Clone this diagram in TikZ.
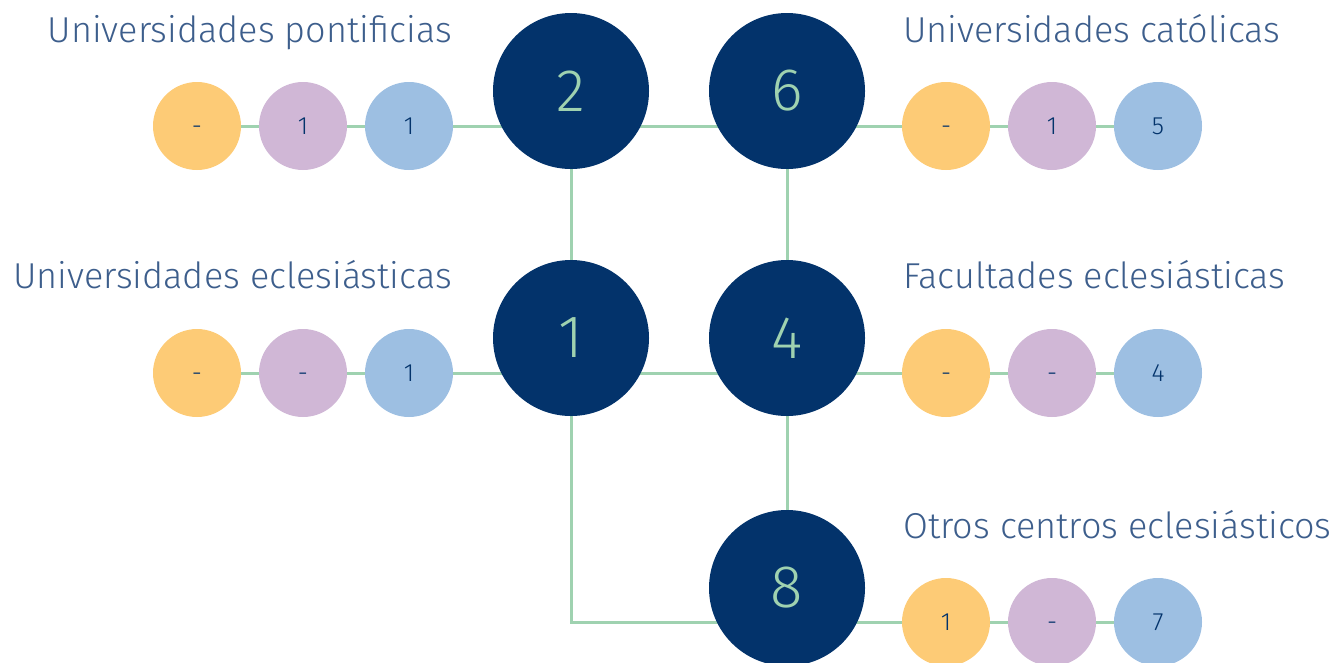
\documentclass[tikz,border=0pt]{standalone}
\usepackage{fontspec}
\setmainfont{Fira Sans}[UprightFont=* Light]
\usetikzlibrary{backgrounds}
\definecolor{navy}{HTML}{03336B}
\definecolor{mint}{HTML}{9FD2B0}
\definecolor{slate}{HTML}{3D5E8C}
\definecolor{ambar}{HTML}{FDCB76}
\definecolor{lila}{HTML}{D0B7D6}
\definecolor{celeste}{HTML}{9DBFE2}

\begin{document}
\begin{tikzpicture}[x=1pt,y=-1pt,
big/.style={circle, fill=navy, text=mint, minimum size=156pt, inner sep=0pt, font=\fontsize{60}{60}\selectfont},
small/.style={circle, minimum size=88pt, inner sep=0pt, text=navy, text height=17pt, text depth=0pt, font=\fontsize{25}{25}\selectfont},
col1/.style={fill=ambar}, col2/.style={fill=lila}, col3/.style={fill=celeste},
title/.style={text=slate, inner sep=0pt, font=\fontsize{36}{36}\selectfont},
link/.style={draw=mint, line width=3pt}]
\useasboundingbox (0,0) rectangle (1340,662);

\node[big] (dos) at (571,91) {2};
\node[big] (seis) at (787,91) {6};
\node[big] (uno) at (571,338) {1};
\node[big] (cuatro) at (787,338) {4};
\node[big] (ocho) at (787,588) {8};

\node[title, anchor=base east] (t-pont) at (452,42) {Universidades pontificias};
\node[title, anchor=base west] (t-cat) at (903,42) {Universidades católicas};
\node[title, anchor=base east] (t-ecl) at (452,288) {Universidades eclesiásticas};
\node[title, anchor=base west] (t-fac) at (903,288) {Facultades eclesiásticas};
\node[title, anchor=base west] (t-otr) at (903,538) {Otros centros eclesiásticos};

\foreach \v [count=\i] in {-,1,1}
  \node[small, col\i] (pont-\i) at ({91+106*\i},126) {\v};
\foreach \v [count=\i] in {-,1,5}
  \node[small, col\i] (cat-\i) at ({840+106*\i},126) {\v};
\foreach \v [count=\i] in {-,-,1}
  \node[small, col\i] (ecl-\i) at ({91+106*\i},373) {\v};
\foreach \v [count=\i] in {-,-,4}
  \node[small, col\i] (fac-\i) at ({840+106*\i},373) {\v};
\foreach \v [count=\i] in {1,-,7}
  \node[small, col\i] (otr-\i) at ({840+106*\i},622) {\v};

\begin{scope}[on background layer]
\draw[link] (pont-1.center) -- (cat-3.center);
\draw[link] (ecl-1.center) -- (fac-3.center);
\draw[link] (dos) -- (uno);
\draw[link] (seis) -- (cuatro);
\draw[link] (cuatro) -- (ocho);
\draw[link] (uno.center) |- (otr-3.center);
\end{scope}
\end{tikzpicture}
\end{document}
